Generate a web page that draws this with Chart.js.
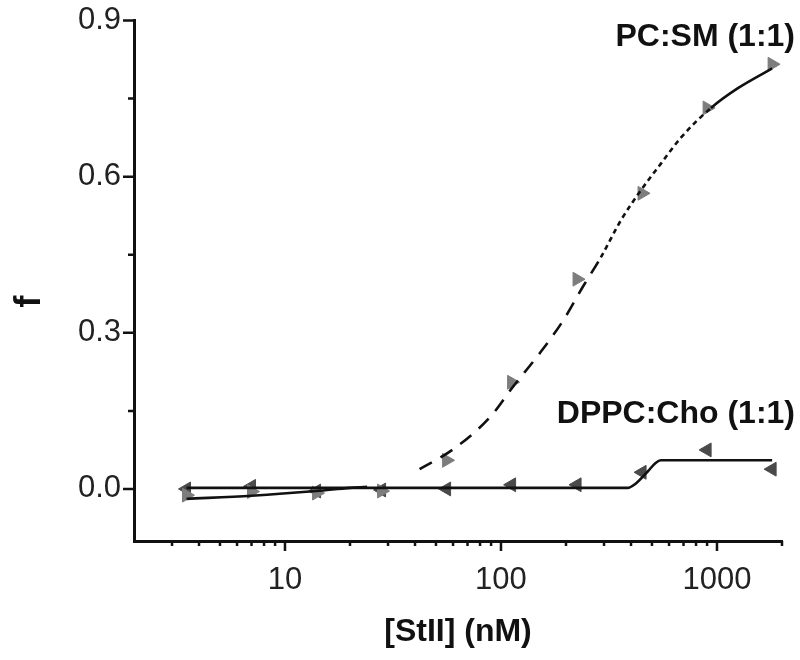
<!DOCTYPE html>
<html>
<head>
<meta charset="utf-8">
<script src="https://cdn.jsdelivr.net/npm/chart.js@4/dist/chart.umd.min.js"></script>
<style>
  html, body { margin: 0; padding: 0; background: #ffffff; }
  #wrap { width: 800px; height: 660px; position: relative; }
</style>
</head>
<body>
<div id="wrap"><canvas id="c" width="800" height="660"></canvas></div>
<script>
// ---- data ----
const concentrations = [3.5, 7, 14, 28, 56, 112, 225, 450, 900, 1800];
const pcsmValues = [-0.012, -0.005, -0.008, -0.004, 0.055, 0.205, 0.403, 0.568, 0.732, 0.816];
const dppcValues = [0.0, 0.005, -0.004, -0.002, 0.0, 0.008, 0.008, 0.032, 0.075, 0.038];

const pcsmFitX = [3.5, 7, 14, 20, 24, 28, 35, 42, 60, 89, 114, 152, 195, 239, 290, 359, 443, 550, 681, 938, 1250, 1800];
const pcsmFitY = [-0.019, -0.013, -0.004, 0.002, 0.004, 0.006, 0.018, 0.038, 0.076, 0.138, 0.197, 0.262, 0.325, 0.388, 0.445, 0.516, 0.573, 0.625, 0.675, 0.732, 0.770, 0.808];

const dppcFitX = [3.5, 50, 200, 386, 420, 479, 520, 550, 1000, 1800];
const dppcFitY = [0.002, 0.002, 0.002, 0.002, 0.010, 0.034, 0.050, 0.055, 0.055, 0.055];

const xTickValues = [10, 100, 1000];
const xMinorTicks = [3, 4, 5, 6, 7, 8, 9, 20, 30, 40, 50, 60, 70, 80, 90, 200, 300, 400, 500, 600, 700, 800, 900, 2000];
const yTickValues = [0, 0.3, 0.6, 0.9];
const yMinorTicks = [0.15, 0.45, 0.75];

const seriesLabels = ['PC:SM (1:1)', 'DPPC:Cho (1:1)'];
const xTitle = '[StII] (nM)';
const yTitle = 'f';

const toPts = (xs, ys) => xs.map((x, i) => ({ x: x, y: ys[i] }));

// ---- plugin: outward ticks, series labels, y title ----
const decorPlugin = {
  id: 'decor',
  afterDraw(chart) {
    const { ctx, chartArea, scales } = chart;
    const xs = scales.x, ys = scales.y;
    ctx.save();
    ctx.strokeStyle = '#111';
    ctx.lineWidth = 2.5;
    ctx.beginPath();
    xTickValues.forEach(v => { const p = xs.getPixelForValue(v); ctx.moveTo(p, chartArea.bottom); ctx.lineTo(p, chartArea.bottom + 10); });
    xMinorTicks.forEach(v => { const p = xs.getPixelForValue(v); ctx.moveTo(p, chartArea.bottom); ctx.lineTo(p, chartArea.bottom + 5); });
    yTickValues.forEach(v => { const p = ys.getPixelForValue(v); ctx.moveTo(chartArea.left, p); ctx.lineTo(chartArea.left - 11, p); });
    yMinorTicks.forEach(v => { const p = ys.getPixelForValue(v); ctx.moveTo(chartArea.left, p); ctx.lineTo(chartArea.left - 6, p); });
    ctx.stroke();

    ctx.fillStyle = '#111';
    ctx.font = 'bold 32px "Liberation Sans", Arial, sans-serif';
    ctx.textAlign = 'right';
    ctx.textBaseline = 'middle';
    const rx = xs.getPixelForValue(2000) + 13;
    ctx.fillText(seriesLabels[0], rx, ys.getPixelForValue(0.868));
    ctx.fillText(seriesLabels[1], rx, ys.getPixelForValue(0.143));

    ctx.translate(30, ys.getPixelForValue(0.36));
    ctx.rotate(-Math.PI / 2);
    ctx.textAlign = 'center';
    ctx.font = 'bold 36px "Liberation Sans", Arial, sans-serif';
    ctx.fillText(yTitle, 0, 0);
    ctx.restore();
  }
};

const pcsmDash = (ctx) => {
  const x = ctx.p0.parsed.x;
  if (x < 24) return [];
  if (x < 290) return [14, 10];
  if (x < 938) return [5, 4];
  return [];
};
const pcsmColor = (ctx) => {
  const x = ctx.p0.parsed.x;
  return (x >= 24 && x < 42) ? 'rgba(0,0,0,0)' : '#111';
};

new Chart(document.getElementById('c'), {
  type: 'scatter',
  data: {
    datasets: [
      {
        label: seriesLabels[0] + ' fit',
        data: toPts(pcsmFitX, pcsmFitY),
        showLine: true,
        borderColor: '#111',
        borderWidth: 2.6,
        pointRadius: 0,
        cubicInterpolationMode: 'monotone',
        segment: { borderDash: pcsmDash, borderColor: pcsmColor }
      },
      {
        label: seriesLabels[1] + ' fit',
        data: toPts(dppcFitX, dppcFitY),
        showLine: true,
        borderColor: '#111',
        borderWidth: 2.6,
        pointRadius: 0,
        cubicInterpolationMode: 'monotone'
      },
      {
        label: seriesLabels[0],
        data: toPts(concentrations, pcsmValues),
        pointStyle: 'triangle',
        rotation: 90,
        pointRadius: 8,
        backgroundColor: '#7d7d7d',
        borderColor: '#7d7d7d',
        borderWidth: 1
      },
      {
        label: seriesLabels[1],
        data: toPts(concentrations, dppcValues),
        pointStyle: 'triangle',
        rotation: -90,
        pointRadius: 8,
        backgroundColor: '#4a4a4a',
        borderColor: '#4a4a4a',
        borderWidth: 1
      }
    ]
  },
  options: {
    responsive: false,
    animation: false,
    layout: { padding: { top: 4, right: 18, left: 0, bottom: 0 } },
    plugins: { legend: { display: false }, tooltip: { enabled: false } },
    scales: {
      x: {
        type: 'logarithmic',
        min: 2,
        max: 2000,
        afterBuildTicks: (s) => { s.ticks = xTickValues.map(v => ({ value: v })); },
        afterFit: (s) => { s.height = 119; },
        grid: { display: false },
        border: { display: true, color: '#111', width: 3 },
        ticks: {
          padding: 13,
          color: '#222',
          font: { family: '"Liberation Sans", Arial, sans-serif', size: 31 },
          callback: (v) => String(v),
          maxRotation: 0,
          autoSkip: false
        },
        title: {
          display: true,
          text: xTitle,
          color: '#111',
          font: { family: '"Liberation Sans", Arial, sans-serif', size: 32, weight: 'bold' },
          padding: { top: 0, bottom: 9 }
        }
      },
      y: {
        min: -0.1,
        max: 0.9,
        afterBuildTicks: (s) => { s.ticks = yTickValues.map(v => ({ value: v })); },
        afterFit: (s) => { s.width = 134; },
        grid: { display: false },
        border: { display: true, color: '#111', width: 3 },
        ticks: {
          padding: 5,
          color: '#222',
          font: { family: '"Liberation Sans", Arial, sans-serif', size: 31, lineHeight: 1.0 },
          callback: (v) => Number(v).toFixed(1)
        }
      }
    }
  },
  plugins: [decorPlugin]
});
</script>
</body>
</html>
